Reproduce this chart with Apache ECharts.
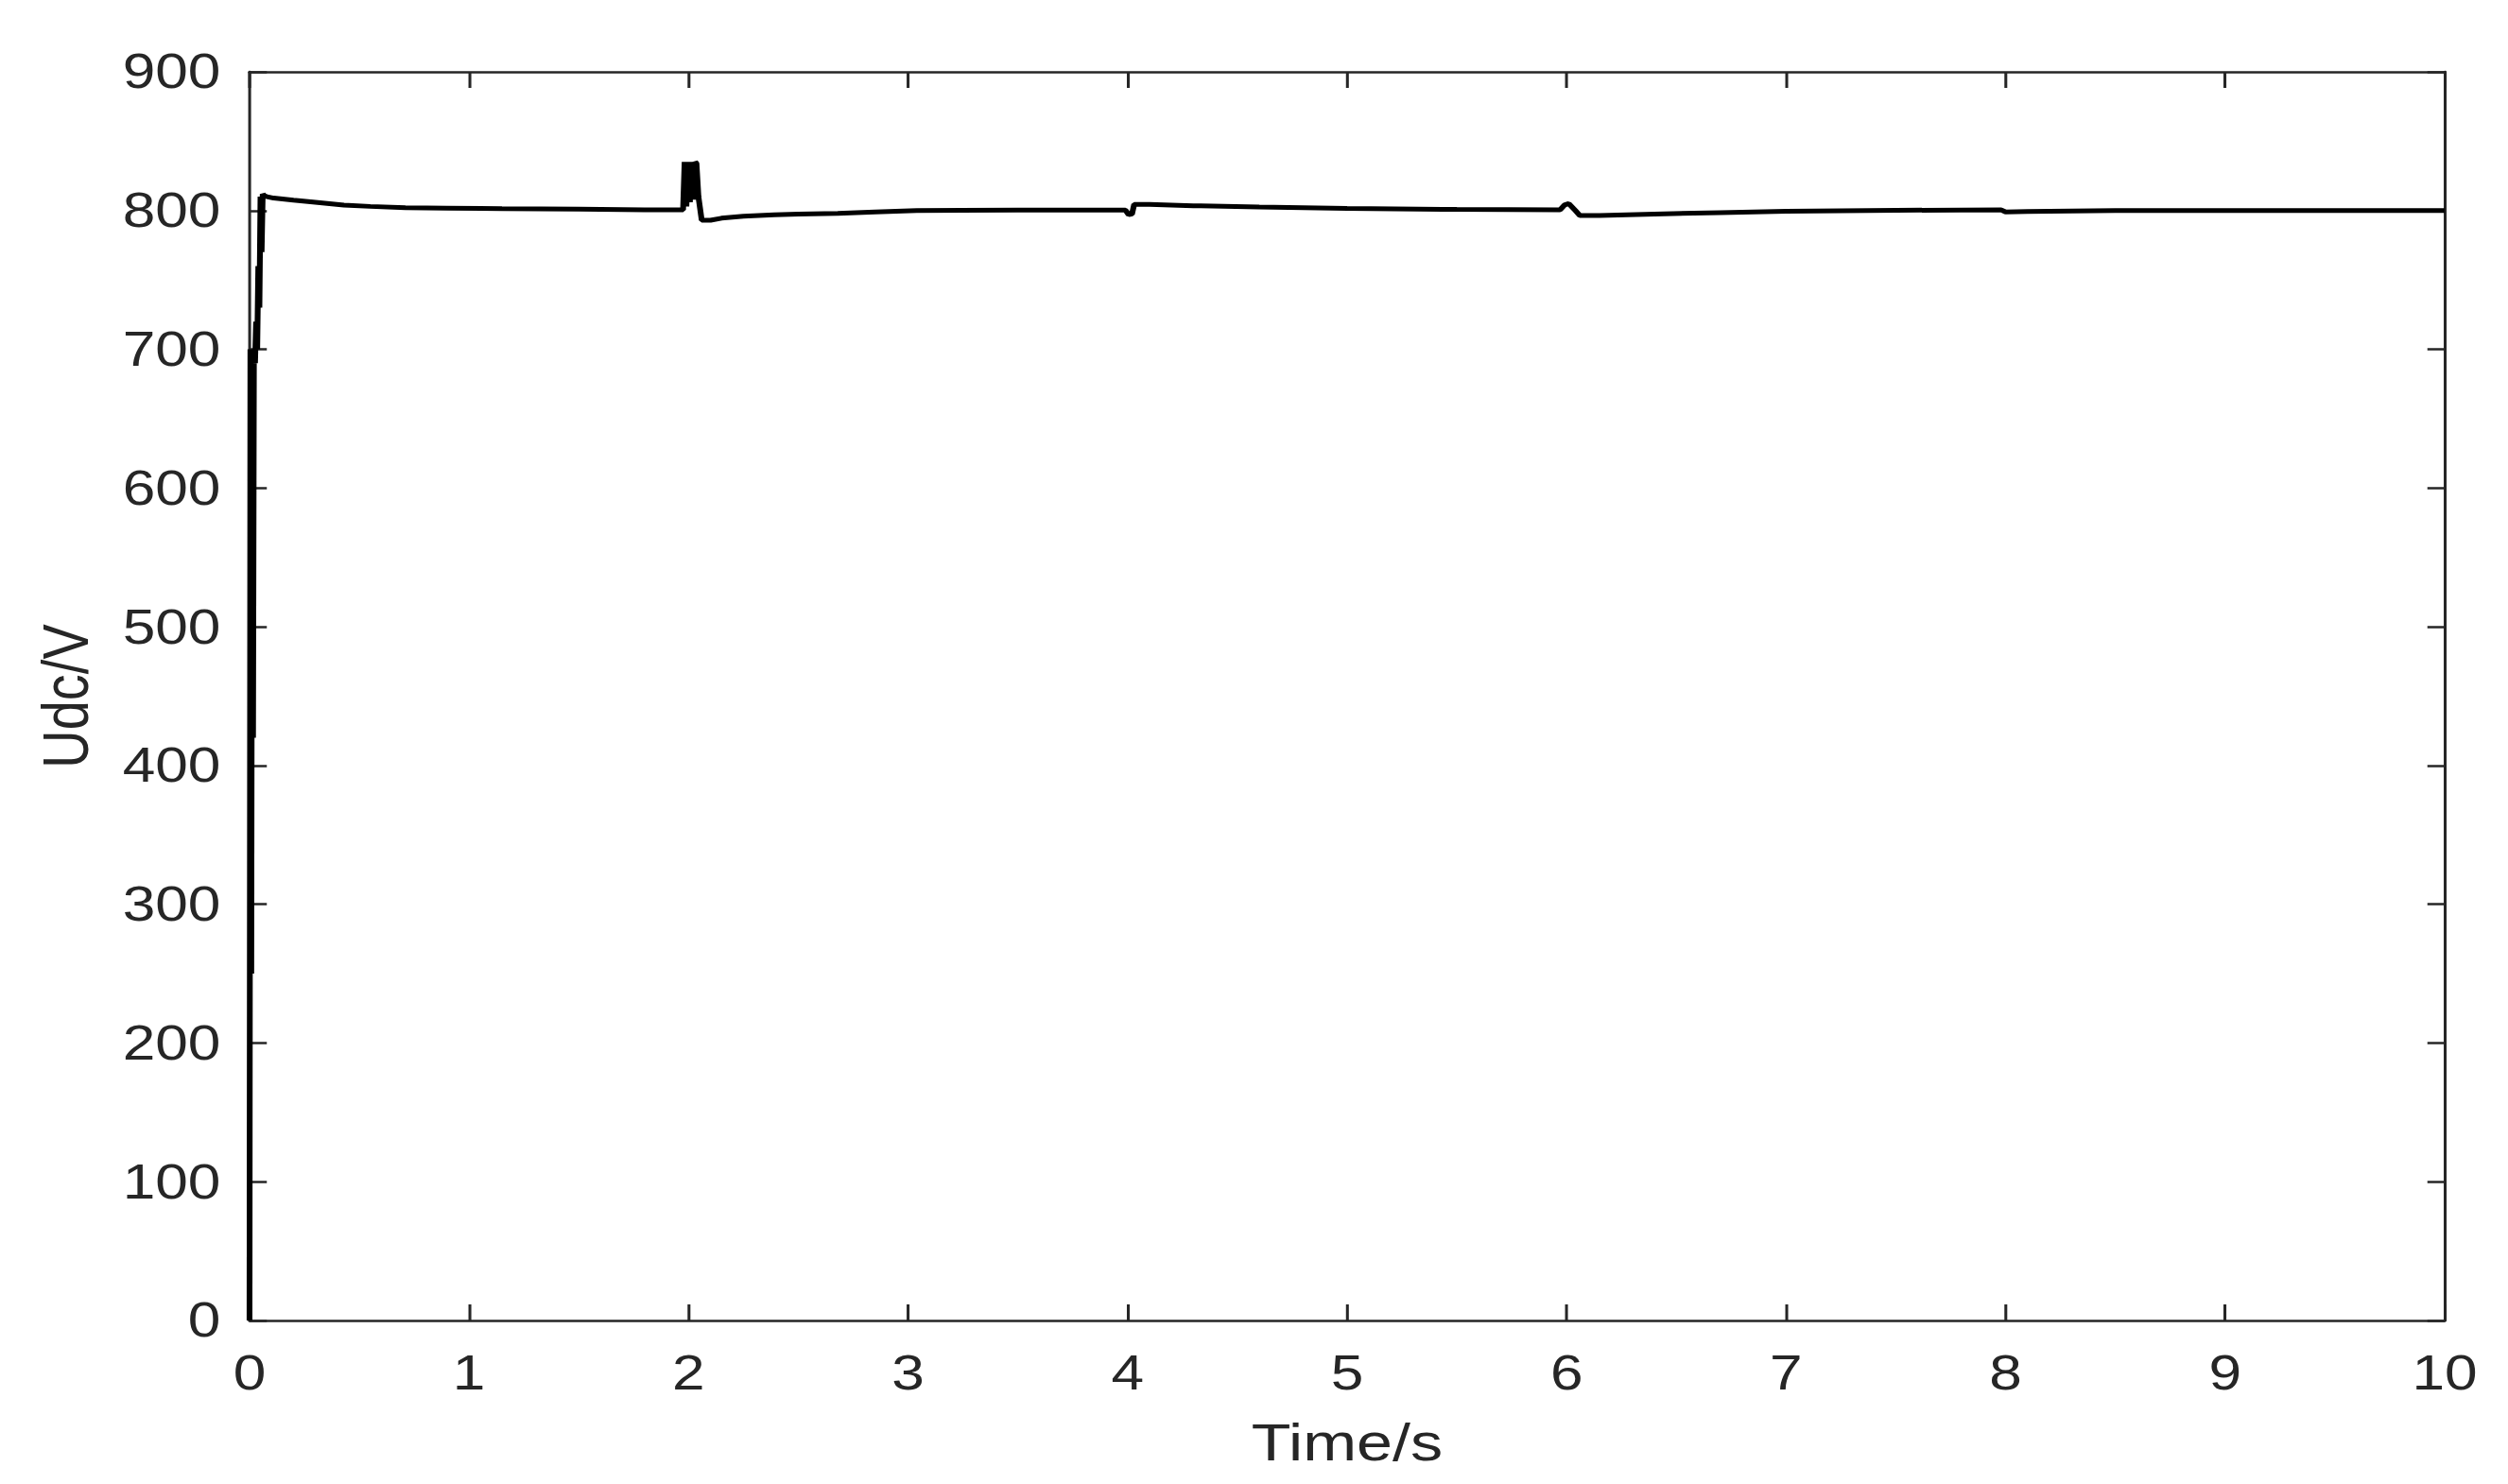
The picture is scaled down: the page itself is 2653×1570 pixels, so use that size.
<!DOCTYPE html>
<html>
<head>
<meta charset="utf-8">
<script src="https://cdn.jsdelivr.net/npm/echarts@6/dist/echarts.min.js"></script>
<style>
html,body{margin:0;padding:0;background:#fff;overflow:hidden;}
#wrap{width:2653px;height:1570px;overflow:hidden;}
#chart{width:2175px;height:1570px;transform:scaleX(1.21977);transform-origin:0 0;}
</style>
</head>
<body>
<div id="wrap"><div id="chart"></div></div>
<script>
// Data
const timeS = [0, 0.004, 0.008, 0.012, 0.016, 0.02, 0.025, 0.03, 0.035, 0.04, 0.045, 0.05, 0.055, 0.06, 0.065, 0.08, 0.11, 0.2, 0.3, 0.43, 0.55, 0.71, 0.9, 1.15, 1.5, 1.8,
  1.975, 1.982, 1.99, 1.998, 2.006, 2.014, 2.022, 2.03, 2.036, 2.045, 2.06, 2.1, 2.15, 2.25, 2.39, 2.5, 2.68, 2.85, 3.04, 3.5,
  3.99, 4.005, 4.02, 4.03, 4.1, 4.3, 4.6, 5.0, 5.5,
  5.97, 5.99, 6.01, 6.04, 6.06, 6.15, 6.4, 6.7, 7.0, 7.5,
  7.98, 8.0, 8.1, 8.5, 9.0, 9.5, 10];
const udcV = [0, 700, 250, 700, 420, 700, 690, 720, 700, 760, 730, 810, 770, 812, 811, 810, 809, 807.5, 806, 804, 803, 802, 801.8, 801.4, 801, 800.5,
  800.5, 835, 803, 835, 806, 835, 808, 835, 834, 810, 793, 793, 794.5, 796, 797, 797.5, 798, 799, 800, 800.3,
  800.3, 797, 797.5, 804.5, 804.5, 803.5, 802.5, 801.5, 800.8,
  800.5, 804, 805, 800, 796.5, 796.5, 797.5, 798.5, 799.5, 800.2,
  800.5, 799, 799.3, 800, 800, 800, 800];
const xTicks = [0, 1, 2, 3, 4, 5, 6, 7, 8, 9, 10];
const yTicks = [0, 100, 200, 300, 400, 500, 600, 700, 800, 900];
const xName = 'Time/s';
const yName = 'Udc/V';

const seriesData = timeS.map((t, i) => [t, udcV[i]]);
const axisColor = '#262626';
const fontFam = '"Liberation Sans", Arial, Helvetica, sans-serif';

const chart = echarts.init(document.getElementById('chart'), null, {renderer: 'svg'});
const baseX = {
  type: 'value', min: xTicks[0], max: xTicks[xTicks.length - 1], interval: 1,
  splitLine: {show: false},
  axisLine: {show: true, onZero: false, lineStyle: {color: axisColor, width: 2.5}},
  axisTick: {show: true, inside: true, length: 17, lineStyle: {color: axisColor, width: 2.5}}
};
const baseY = {
  type: 'value', min: yTicks[0], max: yTicks[yTicks.length - 1], interval: 100,
  splitLine: {show: false},
  axisLine: {show: true, onZero: false, lineStyle: {color: axisColor, width: 2.5}},
  axisTick: {show: true, inside: true, length: 15, lineStyle: {color: axisColor, width: 2.5}}
};
chart.setOption({
  animation: false,
  backgroundColor: '#fff',
  grid: {left: 216.4, right: 54.9, top: 76, bottom: 173, containLabel: false},
  xAxis: [
    Object.assign({}, baseX, {
      position: 'bottom',
      name: xName, nameLocation: 'middle', nameGap: 100,
      nameTextStyle: {color: axisColor, fontSize: 56, fontFamily: fontFam},
      axisLabel: {show: true, color: axisColor, fontSize: 51, fontFamily: fontFam, margin: 30}
    }),
    Object.assign({}, baseX, {position: 'top', axisLabel: {show: false}})
  ],
  yAxis: [
    Object.assign({}, baseY, {
      position: 'left',
      name: yName, nameLocation: 'middle', nameGap: 132, nameRotate: 90,
      nameTextStyle: {color: axisColor, fontSize: 56, fontFamily: fontFam},
      axisLabel: {show: true, color: axisColor, fontSize: 51, fontFamily: fontFam, margin: 25}
    }),
    Object.assign({}, baseY, {position: 'right', axisLabel: {show: false}})
  ],
  series: [{
    type: 'line',
    xAxisIndex: 0, yAxisIndex: 0,
    data: seriesData,
    showSymbol: false,
    symbol: 'none',
    lineStyle: {color: '#000', width: 5},
    silent: true
  }]
});
</script>
</body>
</html>
